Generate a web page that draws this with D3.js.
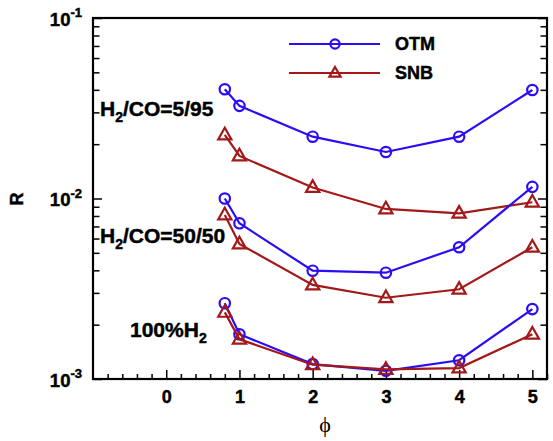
<!DOCTYPE html>
<html>
<head>
<meta charset="utf-8">
<script src="https://cdn.jsdelivr.net/npm/d3@7"></script>
<style>
  html, body { margin: 0; padding: 0; background: #fff; }
  svg text { font-family: "Liberation Sans", Arial, sans-serif; }
  svg text.heavy { stroke: #000; stroke-width: 0.45px; }
</style>
</head>
<body>
<svg id="chart" width="553" height="441"></svg>
<script>
// Equivalence ratio sample points shared by every curve
const phi = [0.8, 1, 2, 3, 4, 5];

// R values for each mixture, OTM vs SNB
const otm_5_95 = [0.0403, 0.0326, 0.0220, 0.0181, 0.0220, 0.0399];
const snb_5_95 = [0.0225, 0.0172, 0.0115, 0.00875, 0.00828, 0.00953];
const otm_50_50 = [0.0100, 0.00729, 0.00398, 0.00388, 0.00537, 0.0116];
const snb_50_50 = [0.00810, 0.00560, 0.00332, 0.00282, 0.00314, 0.00537];
const otm_h2 = [0.00263, 0.00177, 0.00121, 0.00111, 0.00127, 0.00244];
const snb_h2 = [0.00234, 0.00166, 0.00120, 0.00113, 0.00115, 0.00177];

const xMajorTicks = [0, 1, 2, 3, 4, 5];
const yMajorTicks = [1e-3, 1e-2, 1e-1];
const yTickExponents = ["-3", "-2", "-1"];
const seriesNames = ["OTM", "SNB"];
const mixtureLabels = [
  { main: "H", sub: "2", rest: "/CO=5/95" },
  { main: "H", sub: "2", rest: "/CO=50/50" },
  { main: "100%H", sub: "2", rest: "" }
];

const BLUE = "#2b0cf7";
const RED = "#a31818";

const svg = d3.select("#chart");
const plotL = 93, plotR = 547, plotT = 18, plotB = 379;

const x = d3.scaleLinear().domain([-1, 5.2]).range([plotL, plotR]);
const y = d3.scaleLog().domain([1e-3, 1e-1]).range([plotB, plotT]);

// minor ticks
const xMinor = d3.range(-1, 5.2001, 0.2).map(v => +v.toFixed(2))
  .filter(v => Math.abs(v - Math.round(v)) > 1e-6);
const yMinor = [];
[1e-3, 1e-2].forEach(d => { for (let k = 2; k <= 9; k++) yMinor.push(d * k); });

const axisColor = "#000";

// x axis: major + minor inward ticks
const gx = svg.append("g").attr("transform", `translate(0,${plotB})`);
gx.append("g").call(d3.axisBottom(x).tickValues(xMinor).tickSize(-5).tickFormat(""));
gx.append("g").call(d3.axisBottom(x).tickValues(xMajorTicks).tickSize(-9).tickPadding(11).tickFormat(d3.format("d")));
gx.selectAll(".domain").remove();
gx.selectAll(".tick line").attr("stroke", axisColor).attr("stroke-width", 1.5);
gx.selectAll(".tick text").attr("class", "heavy").attr("font-size", 18).style("font-weight", "bold").attr("fill", "#000");

// y axis left
const gy = svg.append("g").attr("transform", `translate(${plotL},0)`);
gy.append("g").call(d3.axisLeft(y).tickValues(yMinor).tickSize(-6.5).tickFormat(""));
const gyMaj = gy.append("g").call(d3.axisLeft(y).tickValues(yMajorTicks).tickSize(-9).tickPadding(11).tickFormat(""));
gy.selectAll(".domain").remove();
gy.selectAll(".tick line").attr("stroke", axisColor).attr("stroke-width", 1.5);
gyMaj.selectAll(".tick text").each(function(d, i) {
  const t = d3.select(this).attr("class", "heavy").attr("font-size", 18.5).style("font-weight", "bold")
    .attr("fill", "#000").attr("text-anchor", "end").attr("dy", 7);
  t.append("tspan").text("10");
  t.append("tspan").attr("font-size", 13).attr("dy", -8.5).text(yTickExponents[i]);
});

// y axis right
const gyr = svg.append("g").attr("transform", `translate(${plotR},0)`);
gyr.append("g").call(d3.axisRight(y).tickValues(yMinor).tickSize(-6.5).tickFormat(""));
gyr.append("g").call(d3.axisRight(y).tickValues(yMajorTicks).tickSize(-9).tickFormat(""));
gyr.selectAll(".domain").remove();
gyr.selectAll(".tick line").attr("stroke", axisColor).attr("stroke-width", 1.5);

// frame
svg.append("rect").attr("x", plotL).attr("y", plotT)
  .attr("width", plotR - plotL).attr("height", plotB - plotT)
  .attr("fill", "none").attr("stroke", "#000").attr("stroke-width", 2.2);

// axis titles
svg.append("text").attr("class", "heavy")
  .attr("transform", `translate(23,${(plotT + plotB) / 2 + 0.5}) rotate(-90)`)
  .attr("text-anchor", "middle").attr("font-size", 18).style("font-weight", "bold").text("R");
svg.append("text").attr("x", 325).attr("y", 432)
  .attr("text-anchor", "middle").attr("font-size", 22)
  .style("font-family", "'Liberation Serif', 'DejaVu Serif', serif").text("ϕ");

// markers
const triPath = "M0,-7.2L6.6,4.4L-6.6,4.4Z";
const line = d3.line().x((d, i) => x(phi[i])).y(d => y(d));

function drawSeries(vals, color, kind) {
  const g = svg.append("g");
  g.append("path").datum(vals).attr("d", line)
    .attr("fill", "none").attr("stroke", color).attr("stroke-width", 2.2);
  const pts = g.selectAll(".m").data(vals).enter();
  if (kind === "circle") {
    pts.append("circle").attr("cx", (d, i) => x(phi[i])).attr("cy", d => y(d)).attr("r", 5.2)
      .attr("fill", "none").attr("stroke", color).attr("stroke-width", 2.2);
  } else {
    pts.append("path").attr("d", triPath)
      .attr("transform", (d, i) => `translate(${x(phi[i])},${y(d)})`)
      .attr("fill", "none").attr("stroke", color).attr("stroke-width", 2.2);
  }
}

[[otm_5_95, snb_5_95], [otm_50_50, snb_50_50], [otm_h2, snb_h2]].forEach(([o, s]) => {
  drawSeries(o, BLUE, "circle");
  drawSeries(s, RED, "triangle");
});

// mixture labels
const labelPos = [[100, 116], [100, 243], [130, 337]];
mixtureLabels.forEach((lb, i) => {
  const t = svg.append("text").attr("class", "heavy").attr("x", labelPos[i][0]).attr("y", labelPos[i][1])
    .attr("font-size", 21).style("font-weight", "bold").attr("fill", "#000");
  t.append("tspan").text(lb.main);
  t.append("tspan").attr("font-size", 14).attr("dy", 6).text(lb.sub);
  if (lb.rest) t.append("tspan").attr("dy", -6).text(lb.rest);
});

// legend
const legendRows = [
  { name: seriesNames[0], color: BLUE, kind: "circle", y: 44 },
  { name: seriesNames[1], color: RED, kind: "triangle", y: 73 }
];
legendRows.forEach(r => {
  const g = svg.append("g");
  g.append("line").attr("x1", 289).attr("x2", 380).attr("y1", r.y).attr("y2", r.y)
    .attr("stroke", r.color).attr("stroke-width", 2.2);
  if (r.kind === "circle") {
    g.append("circle").attr("cx", 335).attr("cy", r.y).attr("r", 4.6)
      .attr("fill", "none").attr("stroke", r.color).attr("stroke-width", 2.2);
  } else {
    g.append("path").attr("d", "M0,-6L5.6,3.6L-5.6,3.6Z").attr("transform", `translate(335,${r.y})`)
      .attr("fill", "none").attr("stroke", r.color).attr("stroke-width", 2.2);
  }
  g.append("text").attr("class", "heavy").attr("x", 395).attr("y", r.y + 6).attr("font-size", 18)
    .style("font-weight", "bold").text(r.name);
});
</script>
</body>
</html>
